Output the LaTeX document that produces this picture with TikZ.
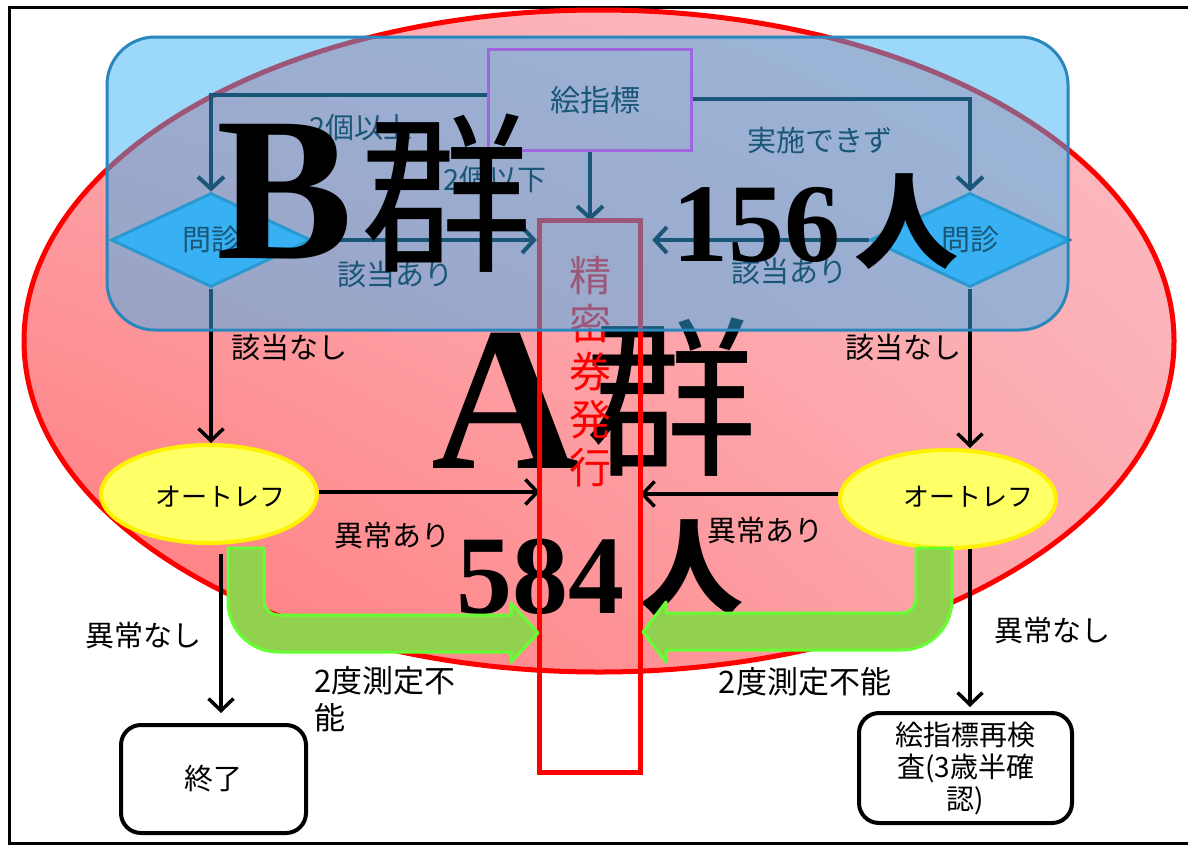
\documentclass[tikz,border=0pt]{standalone}
\usepackage{fontspec}
\setmainfont{Liberation Serif}
\newfontfamily\jp{Noto Sans CJK JP}
\usetikzlibrary{arrows.meta,shapes.geometric,calc,shadings}

\definecolor{ovl}{RGB}{55,177,243}
\definecolor{ovlborder}{RGB}{42,135,190}
\definecolor{diaborder}{RGB}{33,131,175}
\definecolor{purp}{RGB}{160,102,224}
\definecolor{yfill}{RGB}{255,255,102}
\definecolor{gfill}{RGB}{146,208,80}
\definecolor{gline}{RGB}{102,255,51}
\definecolor{pinkL}{RGB}{252,190,195}
\definecolor{pinkM}{RGB}{252,170,176}
\definecolor{pinkD}{RGB}{255,118,120}

\tikzset{
  lbl/.style={font=\jp\fontsize{29}{33}\selectfont, inner sep=0pt},
  lblb/.style={font=\jp\fontsize{31}{37}\selectfont, inner sep=0pt},
  barrow/.style={line width=3.5pt, -{Straight Barb[length=12pt,width=25pt]}},
  blarrow/.style={line width=4pt, -{Straight Barb[length=12pt,width=26pt]}},
  dia/.style={diamond, minimum width=200pt, minimum height=94pt, inner sep=0pt,
    fill=ovl, draw=diaborder, line width=3pt, font=\jp\fontsize{29}{33}\selectfont},
  yel/.style={ellipse, minimum width=216pt, minimum height=98pt, inner sep=0pt,
    fill=yfill, draw=yellow, line width=4pt},
  endbox/.style={draw, line width=4pt, rounded corners=20pt, inner sep=0pt,
    font=\jp\fontsize{29}{33}\selectfont, align=center},
  greenarrow/.style={fill=gfill, draw=gline, line width=3pt, line join=round},
  bigL/.style={font=\fontsize{205}{205}\selectfont\bfseries, inner sep=0pt},
  bigJ/.style={font=\jp\fontsize{172}{172}\selectfont, inner sep=0pt},
  num/.style={font=\fontsize{112}{112}\selectfont\bfseries, inner sep=0pt},
  numJ/.style={font=\jp\bfseries\fontsize{104}{104}\selectfont, inner sep=0pt}
}

\begin{document}
\begin{tikzpicture}[x=1pt,y=-1pt]
\useasboundingbox (0,0) rectangle (1188,846);
\fill[white] (0,0) rectangle (1188,846);
\draw[line width=3pt] (9,7) rectangle (1200,843);

% A group ellipse
\shadedraw[draw=red, line width=5pt, upper left=pinkM, upper right=pinkL,
  lower left=pinkD, lower right=pinkM] (599,341) ellipse [x radius=575pt, y radius=331pt];

% nodes
\node[rectangle, minimum width=202pt, minimum height=100pt, inner sep=0pt,
  font=\jp\fontsize{30}{30}\selectfont] (e) at (590,100) {\hspace*{10pt}絵指標};
\node[rectangle, minimum width=100pt, minimum height=551pt, inner sep=0pt] (box) at (590,496.5) {};
\node[dia] (dL) at (211,240) {問診};
\node[dia] (dR) at (970,240) {問診};
\node[yel] (yL) at (209,494) {};
\node[yel] (yR) at (948,499) {};
\node[lbl, font=\jp\fontsize{26}{30}\selectfont] (tL) at (220,497) {オートレフ};
\node[lbl, font=\jp\fontsize{26}{30}\selectfont] (tR) at (968,497) {オートレフ};
\node[endbox, minimum width=185pt, minimum height=108pt] (owari) at (213.5,779) {終了};
\node[endbox, minimum width=213pt, minimum height=110pt, font=\jp\fontsize{28}{32}\selectfont] (saiken) at (965.5,768) {絵指標再検\\査(3歳半確\\認)};

% labels
\node[lbl] (l1) at (361,128) {2個以上};
\node[lbl] (l2) at (495,180) {2個以下};
\node[lbl] (l3) at (820,140) {実施できず};
\node[lbl] (l4) at (395,275) {該当あり};
\node[lbl] (l5) at (789,272) {該当あり};
\node[lbl] (l6) at (289,348) {該当なし};
\node[lbl] (l7) at (903,348) {該当なし};
\node[lbl] (l8) at (392,535) {異常あり};
\node[lbl] (l9) at (765,530) {異常あり};
\node[lbl] (l10) at (143,635) {異常なし};
\node[lbl] (l11) at (1052,630) {異常なし};
\node[lblb, anchor=north west, align=left] (l12) at (314,666) {2度測定不\\能};
\node[lblb] (l13) at (805,682) {2度測定不能};

% connectors
\draw[blarrow] ($(e.west)+(0,-5)$) -| (dL.north);
\draw[blarrow] ($(e.east)+(0,-1)$) -| (dR.north);
\draw[blarrow] (e.south) -- (box.north);
\draw[blarrow, shorten >=3pt] (dL.east) -- (dL.east -| box.west);
\draw[blarrow, shorten >=12pt] (dR.west) -- (dR.west -| box.east);
\draw[barrow] (dL.south) -- (dL.south |- yL.north);
\draw[barrow] (dR.south) -- (dR.south |- yR.north);
\draw[barrow] ($(yL.east)+(0,-2)$) -- ($(yL.east -| box.west)+(0,-2)$);
\draw[barrow] ($(yR.west)+(0,-5)$) -- ($(yR.west -| box.east)+(0,-5)$);
\coordinate (sL) at (221,554);
\coordinate (sR) at (970,549);
\draw[barrow, shorten >=10pt] (sL) -- (sL |- owari.north);
\draw[barrow, shorten >=4pt] (sR) -- (sR |- saiken.north);

% A group text
\node[bigL, anchor=base west] (A) at (431,468) {A};
\node[bigJ, anchor=base] (gA) at (671,462) {群};
\node[num, anchor=base west] (n584) at (456,613) {584};
\node[numJ, anchor=base] (hA) at (691,606) {人};

% seimitsu box
\draw[red, line width=5pt] (box.north west) rectangle (box.south east);

% green block arrows
\draw[greenarrow] (228,548) -- (228,602) .. controls (228,629.6) and (250.4,652) .. (278,652)
  -- (511,652) -- (511,662) -- (538,633) -- (511,603) -- (511,615) -- (278,615)
  .. controls (270.3,615) and (264,608.7) .. (264,601) -- (264,548) -- cycle;
\draw[greenarrow] (952,548) -- (952,600) .. controls (952,627.6) and (929.6,650) .. (902,650)
  -- (666,650) -- (666,662) -- (643,632) -- (666,602) -- (666,613) -- (902,613)
  .. controls (909.7,613) and (916,606.7) .. (916,599) -- (916,548) -- cycle;

\node[text=red, font=\jp\fontsize{42}{48}\selectfont, align=center, inner sep=0pt] (kanji) at (590,372) {精\\密\\券\\発\\行};

% B group overlay
\draw[fill=ovl, fill opacity=0.49, draw=ovlborder, line width=3pt, rounded corners=48pt] (107,37) rectangle (1068,330);
\draw[purp, line width=3pt] (e.north west) rectangle (e.south east);

% B group text
\node[bigL, anchor=base west] (B) at (216,258) {B};
\node[bigJ, anchor=base] (gB) at (446,258) {群};
\node[num, anchor=base west] (n156) at (672,261) {156};
\node[numJ, anchor=base] (hB) at (906,260) {人};
\end{tikzpicture}
\end{document}
